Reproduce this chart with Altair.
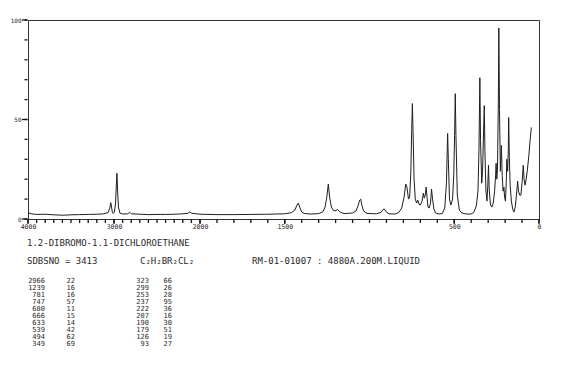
import altair as alt
import pandas as pd

# Raman spectrum (wavenumber cm-1, relative intensity)
wn = [4000, 3960, 3900, 3800, 3700, 3600, 3500, 3400, 3300, 3200, 3120, 3070, 3048, 3038, 3030, 3020, 3008,
      2995, 2982, 2974, 2966, 2958, 2948, 2932, 2900, 2840, 2818, 2800, 2700, 2600, 2500, 2400, 2300, 2200,
      2140, 2118, 2100, 2000, 1900, 1800, 1700, 1600, 1500, 1460, 1440, 1428, 1420, 1412, 1400, 1385, 1350,
      1300, 1275, 1262, 1252, 1243, 1235, 1225, 1212, 1198, 1188, 1176, 1150, 1100, 1080, 1068, 1058, 1052,
      1045, 1035, 1015, 960, 932, 920, 912, 902, 885, 850, 828, 810, 796, 786, 779, 770, 763, 756, 751, 747,
      743, 737, 730, 722, 715, 708, 700, 690, 682, 677, 671, 666, 661, 655, 648, 640, 634, 628, 620, 610,
      590, 570, 556, 546, 539, 535, 528, 520, 510, 503, 498, 494, 490, 482, 470, 455, 430, 400, 385, 370,
      360, 354, 349, 345, 338, 333, 327, 323, 319, 313, 307, 302, 298, 294, 286, 278, 270, 262, 256, 253,
      249, 245, 240, 237, 233, 228, 222, 217, 212, 207, 203, 198, 193, 190, 185, 181, 179, 175, 170, 163,
      155, 148, 140, 133, 126, 121, 114, 107, 99, 93, 88, 82, 76, 68, 60, 52, 45]
inten = [3.2, 2.6, 2.3, 2.4, 2.1, 1.9, 2.1, 2.2, 2.3, 2.4, 2.6, 3.2, 5.5, 8.2, 6.5, 3.5, 2.8,
         3.5, 8, 16, 23, 14, 6, 3, 2.5, 2.6, 3.4, 2.6, 2.4, 2.2, 2.3, 2.3, 2.4, 2.6,
         2.9, 3.6, 2.9, 2.4, 2.2, 2.2, 2.3, 2.4, 2.6, 3.2, 4.5, 7, 8, 6, 3.5, 2.8, 2.5,
         2.7, 3.6, 6, 11, 17.5, 11, 6, 4.2, 4.2, 4.8, 3.6, 2.7, 3, 4, 6.5, 9.5, 10,
         7, 4, 2.8, 2.6, 3.3, 4.8, 5, 3.6, 2.6, 2.5, 3.2, 5.5, 11, 17.5, 16, 10, 11, 24, 45, 58,
         44, 20, 10, 8, 9.5, 7.5, 7, 9, 13, 10.5, 12, 16, 11.5, 6, 5.5, 8, 15, 10, 5, 3,
         2.5, 2.8, 5.5, 18, 43, 30, 10, 7, 10, 22, 42, 63, 42, 12, 4.5, 3, 2.5, 2.5, 3.3, 6.5,
         14, 35, 71, 40, 18, 24, 44, 57, 34, 14, 9, 17, 27, 15, 7, 6, 8, 14, 22, 28,
         20, 25, 58, 96, 55, 24, 37, 22, 14, 16, 11, 9, 19, 30, 24, 35, 51, 31, 17, 9,
         5, 3.5, 6, 12, 19, 14, 12, 12, 19, 27, 20, 17, 20, 25, 32, 40, 46]

# Peak table
peak_wn = [2966, 1239, 781, 747, 680, 666, 633, 539, 494, 349,
           323, 299, 253, 237, 222, 207, 190, 179, 126, 93]
peak_int = [22, 16, 16, 57, 11, 15, 14, 42, 62, 69,
            66, 26, 28, 95, 36, 16, 30, 51, 19, 27]

x_major = [4000, 3000, 2000, 1500, 500, 0]
x_ticks = list(range(0, 4001, 100))
y_major = [0, 50, 100]
y_ticks = list(range(0, 101, 10))

title_line = "1.2-DIBROMO-1.1-DICHLOROETHANE"
sdbs_line = "SDBSNO = 3413"
formula = "C\u2082H\u2082BR\u2082CL\u2082"
cond_line = "RM-01-01007 : 4880A.200M.LIQUID"

spec = pd.DataFrame({"wn": wn, "I": inten})
table = pd.DataFrame({
    "wn": [str(v) for v in peak_wn],
    "I": [str(v) for v in peak_int],
    "row": [i % 10 for i in range(len(peak_wn))],
    "grp": [i // 10 for i in range(len(peak_wn))],
})

AX = "#333"
TK = "#111"
TX = "#2a2a2a"

x_scale = alt.Scale(domain=[4000, 2000, 0], range=[0, 172, 511], zero=False, nice=False)
y_scale = alt.Scale(domain=[0, 100], zero=False, nice=False)

line = alt.Chart(spec).mark_line(color="#1e1e1e", strokeWidth=1).encode(
    x=alt.X("wn:Q", scale=x_scale,
            axis=alt.Axis(values=x_major, format="d", title=None, grid=False, ticks=False,
                          labelOverlap=False, labelFlush=False,
                          labelFont="DejaVu Sans Mono", labelFontSize=6.5, labelColor=TX,
                          labelPadding=4, domainColor=AX)),
    y=alt.Y("I:Q", scale=y_scale,
            axis=alt.Axis(values=y_major, title=None, grid=False, ticks=False,
                          labelOverlap=False, labelFlush=False,
                          labelFont="DejaVu Sans Mono", labelFontSize=6, labelColor=TX,
                          labelPadding=7, domainColor=AX)),
)

xt = pd.DataFrame({"v": x_ticks})
yt = pd.DataFrame({"v": y_ticks})

x_tick_minor = alt.Chart(xt).mark_rule(color=TK, strokeWidth=1.3).encode(
    x=alt.X("v:Q", scale=x_scale), y=alt.value(199.5), y2=alt.value(203))
x_tick_major = alt.Chart(pd.DataFrame({"v": x_major})).mark_rule(color=TK, strokeWidth=1.3).encode(
    x=alt.X("v:Q", scale=x_scale), y=alt.value(199.5), y2=alt.value(204))
y_tick_minor = alt.Chart(yt).mark_rule(color=TK, strokeWidth=1.3).encode(
    y=alt.Y("v:Q", scale=y_scale, axis=None), x=alt.value(-3.5), x2=alt.value(-0.5))
y_tick_major = alt.Chart(pd.DataFrame({"v": y_major})).mark_rule(color=TK, strokeWidth=1.3).encode(
    y=alt.Y("v:Q", scale=y_scale, axis=None), x=alt.value(-6), x2=alt.value(-0.5))


def label(txt, x, y, size=9):
    return alt.Chart(pd.DataFrame({"t": [txt]})).mark_text(
        align="left", baseline="middle", font="DejaVu Sans Mono", fontSize=size, color=TX
    ).encode(x=alt.value(x), y=alt.value(y), text="t:N")


row_scale = alt.Scale(domain=[0, 9], range=[261, 324])


def col(field, grp, x):
    return alt.Chart(table).transform_filter(alt.datum.grp == grp).mark_text(
        align="right", baseline="middle", font="DejaVu Sans Mono", fontSize=7, color=TX
    ).encode(x=alt.value(x), y=alt.Y("row:Q", scale=row_scale, axis=None), text=field + ":N")


chart = alt.layer(
    line, x_tick_minor, x_tick_major, y_tick_minor, y_tick_major,
    label(title_line, -1, 223),
    label(sdbs_line, -1, 241),
    label(formula, 112, 241),
    label(cond_line, 224, 241),
    col("wn", 0, 17), col("I", 0, 47), col("wn", 1, 121), col("I", 1, 144),
).resolve_scale(y="independent").properties(
    width=511, height=199,
    autosize=alt.AutoSizeParams(type="none"),
    padding={"left": 28, "top": 20, "right": 31, "bottom": 147},
    background="white",
).configure_view(stroke=AX, strokeWidth=1)

chart.save("out.html", embed_options={"renderer": "svg", "actions": False})
